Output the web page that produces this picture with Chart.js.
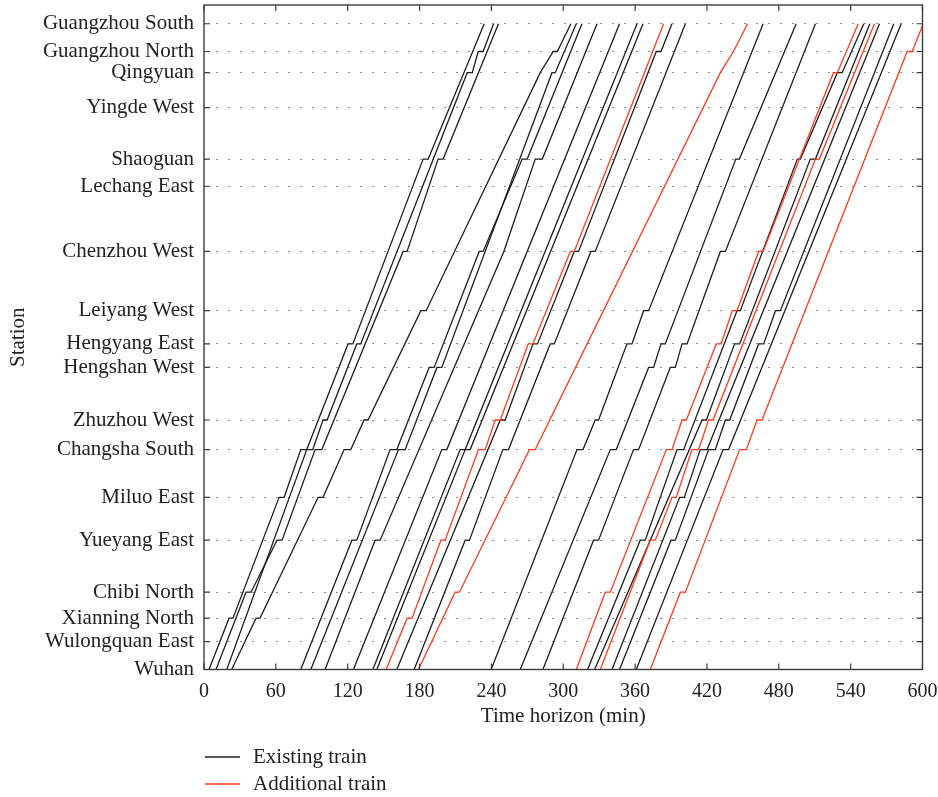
<!DOCTYPE html>
<html>
<head>
<meta charset="utf-8">
<script src="https://cdn.jsdelivr.net/npm/chart.js@4.4.0/dist/chart.umd.min.js"></script>
<style>
  html, body { margin: 0; padding: 0; background: #fff; }
</style>
</head>
<body>
<canvas id="chart" width="938" height="797"></canvas>
<script>
// stations along the line (km from Wuhan)
const stationNames = ['Wuhan', 'Wulongquan East', 'Xianning North', 'Chibi North', 'Yueyang East',
  'Miluo East', 'Changsha South', 'Zhuzhou West', 'Hengshan West', 'Hengyang East', 'Leiyang West',
  'Chenzhou West', 'Lechang East', 'Shaoguan', 'Yingde West', 'Qingyuan', 'Guangzhou North', 'Guangzhou South'];
const stationKm = [0, 46, 85, 128, 214, 285, 364, 413, 500, 539, 594, 692, 800, 845, 930, 988, 1023, 1069];
const timeTicks = [0, 60, 120, 180, 240, 300, 360, 420, 480, 540, 600];

// each train: [minute, km] corners
const existingTrains = [
  [[4.2,0],[20.9,85],[24.2,85],[62.7,285],[66.9,285],[80.8,364],[85.8,364],[120.3,539],[124.3,539],[183,845],[187.2,845],[234,1069]],
  [[10,0],[35.1,128],[39.3,128],[61,214],[65.2,214],[92.8,364],[98.4,364],[166.3,692],[169.6,692],[195.5,845],[199.7,845],[245.9,1069]],
  [[19,0],[85.8,364],[90.8,364],[99.4,413],[102.8,413],[127.6,539],[130.9,539],[219.8,988],[224,988],[229,1023],[233.1,1023],[241.8,1069]],
  [[23.1,0],[43.5,85],[46.8,85],[95.3,285],[99.4,285],[117,364],[122.6,364],[133.7,413],[137,413],[181.1,594],[185.5,594],[280.8,988],[291.6,1023],[295,1023],[306.4,1069]],
  [[80.8,0],[123.5,214],[127.6,214],[155.4,364],[161,364],[188,500],[192.2,500],[229.8,692],[233.1,692],[265.7,845],[269.9,845],[315.6,1069]],
  [[89.2,0],[162.4,364],[168,364],[194.5,500],[198.6,500],[290.6,988],[293.3,988],[310.9,1069]],
  [[101.1,0],[142.9,214],[147.1,214],[250.4,692],[276.6,845],[282.5,845],[328.2,1069]],
  [[124.8,0],[198.6,364],[202.8,364],[347,1069]],
  [[141,0],[213.9,364],[218.1,364],[361.6,1069]],
  [[144.3,0],[218.1,364],[222.3,364],[366.6,1069]],
  [[161,0],[247.4,413],[251.5,413],[274.7,539],[278.5,539],[309.2,692],[312.8,692],[377.7,1023],[381.6,1023],[390.8,1069]],
  [[175.5,0],[218.1,214],[221.7,214],[249.6,364],[254.3,364],[289.1,539],[292.5,539],[323.1,692],[326.7,692],[402,1069]],
  [[239.8,0],[311.5,364],[316.5,364],[326.7,413],[329.5,413],[353.2,539],[357.4,539],[367.1,594],[371.3,594],[466.9,1069]],
  [[264.1,0],[339.3,364],[344.3,364],[371.3,500],[375.5,500],[381.6,539],[385.2,539],[444.1,845],[447.1,845],[494.5,1069]],
  [[283,0],[325.3,214],[329.5,214],[358.7,364],[362.9,364],[389.4,500],[393.6,500],[399.2,539],[403.4,539],[431.2,692],[435.4,692],[510.6,1069]],
  [[320.3,0],[364.3,214],[368.5,214],[395,364],[400.5,364],[445.1,594],[447.9,594],[495.5,845],[498,845],[528.9,988],[532.9,988],[551,1069]],
  [[326.2,0],[415.9,413],[419.5,413],[443.1,539],[447.3,539],[506.3,845],[510.6,845],[556,1069]],
  [[340.7,0],[397.2,285],[401.1,285],[414.4,364],[420.1,364],[564.1,1069]],
  [[347,0],[390,214],[393.6,214],[421.4,364],[427,364],[435.4,413],[439,413],[463.2,539],[467.4,539],[477.2,594],[481.3,594],[576,1069]],
  [[361,0],[433.5,364],[438.1,364],[582.2,1069]]
];

const additionalTrains = [
  [[152.1,0],[169.6,85],[173.8,85],[197.8,214],[201.4,214],[229.2,364],[234.8,364],[243.2,413],[247.4,413],[270.8,539],[274.7,539],[305.9,692],[309.2,692],[383.8,1069]],
  [[179.1,0],[209.7,128],[213.3,128],[271.8,364],[276.6,364],[431.2,988],[442.1,1023],[454,1069]],
  [[310.9,0],[335.1,128],[339.3,128],[386.1,364],[390.8,364],[399.2,413],[402.8,413],[427.8,539],[431.8,539],[441.2,594],[445.1,594],[463.2,692],[466.9,692],[525.6,988],[528.9,988],[546.3,1069]],
  [[330.9,0],[372.7,214],[376.9,214],[390.8,285],[394.4,285],[407.5,364],[413,364],[421.4,413],[425.1,413],[510.6,845],[513.9,845],[559.9,1069]],
  [[372.7,0],[397.8,128],[402,128],[447.3,364],[452.9,364],[461.9,413],[466,413],[587.2,1023],[591.4,1023],[600.6,1069]]
];

const legendLabels = ['Existing train', 'Additional train'];

const BLACK = '#1e1e1e';
const RED = '#ff3a1c';
const FONT = "'Liberation Serif', 'Times New Roman', serif";

function toPoints(train) {
  return train.map(p => ({ x: p[0], y: p[1] }));
}

const datasets = [];
additionalTrains.forEach(t => datasets.push({ data: toPoints(t), borderColor: RED }));
existingTrains.forEach(t => datasets.push({ data: toPoints(t), borderColor: BLACK }));

// frame, inward ticks and the legend underneath
const framePlugin = {
  id: 'frame',
  afterDraw(chart) {
    const { ctx, chartArea: a, scales: { x, y } } = chart;
    ctx.save();
    ctx.strokeStyle = '#3c3c3c';
    ctx.lineWidth = 1.4;
    ctx.strokeRect(a.left, a.top, a.right - a.left, a.bottom - a.top);
    ctx.lineWidth = 1.2;
    ctx.beginPath();
    timeTicks.forEach(t => {
      const px = x.getPixelForValue(t);
      ctx.moveTo(px, a.bottom); ctx.lineTo(px, a.bottom - 6);
      ctx.moveTo(px, a.top); ctx.lineTo(px, a.top + 6);
    });
    stationKm.forEach(k => {
      const py = y.getPixelForValue(k);
      ctx.moveTo(a.left, py); ctx.lineTo(a.left + 6, py);
      ctx.moveTo(a.right, py); ctx.lineTo(a.right - 6, py);
    });
    ctx.stroke();

    ctx.font = '21px ' + FONT;
    ctx.textBaseline = 'middle';
    ctx.fillStyle = '#222';
    [BLACK, RED].forEach((col, i) => {
      const ly = 757 + i * 27;
      ctx.strokeStyle = col;
      ctx.lineWidth = 1.3;
      ctx.beginPath();
      ctx.moveTo(a.left + 1, ly);
      ctx.lineTo(a.left + 36, ly);
      ctx.stroke();
      ctx.fillText(legendLabels[i], a.left + 49, ly);
    });
    ctx.restore();
  }
};

new Chart(document.getElementById('chart'), {
  type: 'line',
  data: { datasets },
  options: {
    responsive: false,
    animation: false,
    devicePixelRatio: 1,
    layout: { padding: { left: 0, top: 5, right: 15.5, bottom: 0 } },
    elements: {
      line: { borderWidth: 1.3, tension: 0, fill: false },
      point: { radius: 0, hoverRadius: 0 }
    },
    plugins: { legend: { display: false }, tooltip: { enabled: false } },
    scales: {
      x: {
        type: 'linear',
        min: 0,
        max: 600,
        afterFit: s => { s.height = 127.5; s.paddingLeft = 0; s.paddingRight = 0; },
        afterBuildTicks: s => { s.ticks = timeTicks.map(v => ({ value: v })); },
        grid: { display: false, drawTicks: false },
        border: { display: false },
        ticks: { padding: 10, color: '#222', font: { family: FONT, size: 20 }, maxRotation: 0 },
        title: {
          display: true,
          text: 'Time horizon (min)',
          color: '#222',
          font: { family: FONT, size: 21 },
          padding: { top: 0, bottom: 68.4 }
        }
      },
      y: {
        type: 'linear',
        min: 0,
        max: 1100,
        afterFit: s => { s.width = 204; s.paddingTop = 0; s.paddingBottom = 0; },
        afterBuildTicks: s => { s.ticks = stationKm.map(v => ({ value: v })); },
        grid: { color: '#8a8a8a', lineWidth: 1, drawTicks: false },
        border: { display: false, dash: [2, 10] },
        ticks: {
          padding: 10,
          color: '#222',
          font: { family: FONT, size: 21 },
          callback: v => stationNames[stationKm.indexOf(v)]
        },
        title: {
          display: true,
          text: 'Station',
          color: '#222',
          font: { family: FONT, size: 21 },
          padding: { top: 5.4, bottom: 0 }
        }
      }
    }
  },
  plugins: [framePlugin]
});
</script>
</body>
</html>
